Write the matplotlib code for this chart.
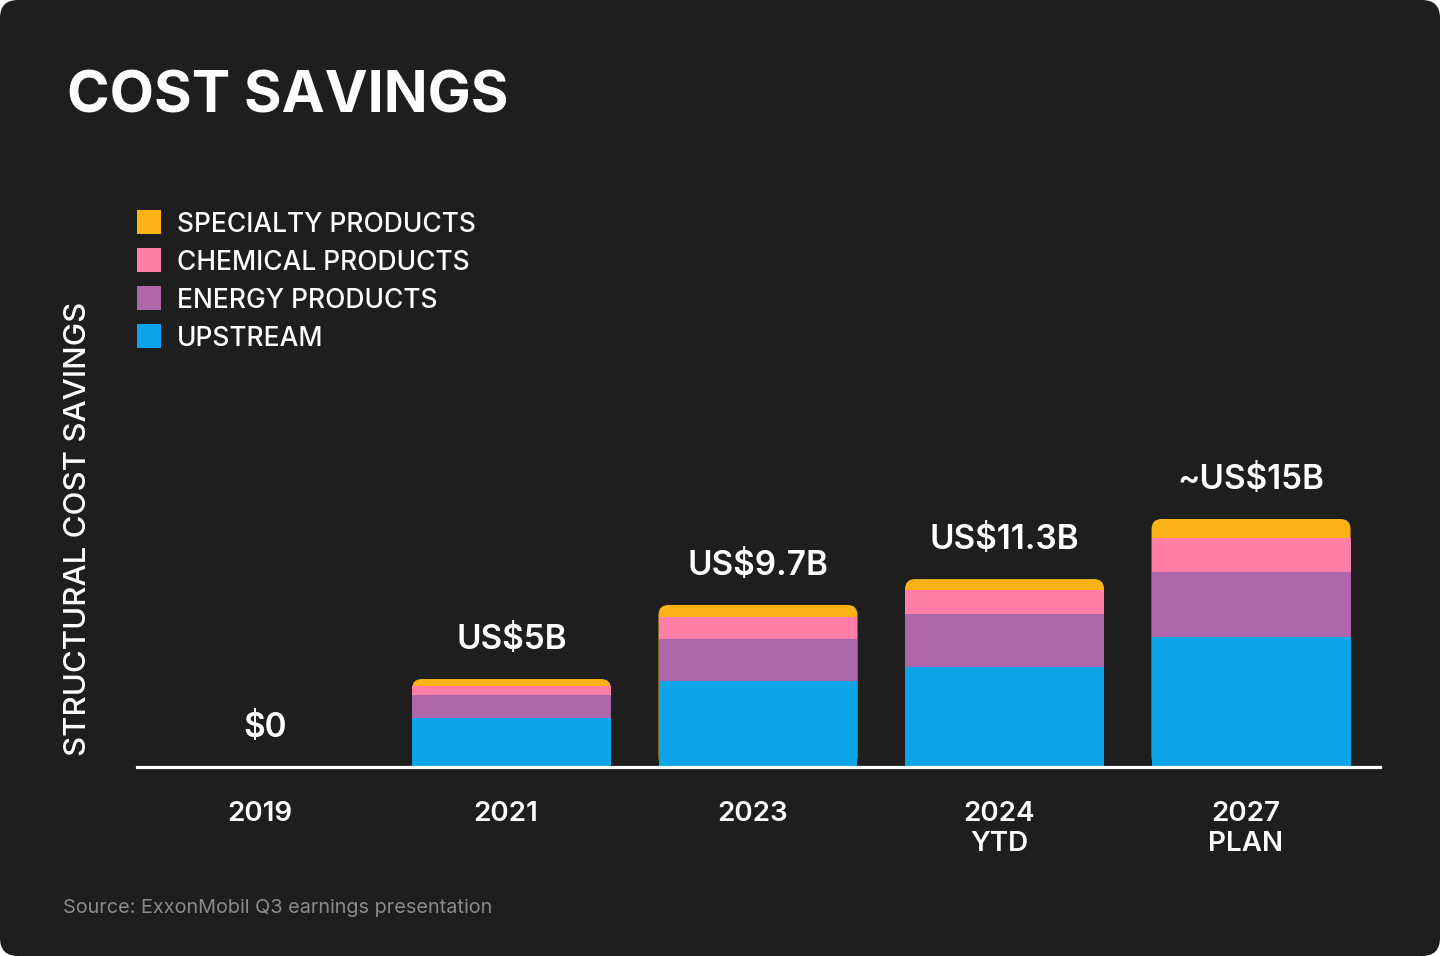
import matplotlib.pyplot as plt
from matplotlib.patches import FancyBboxPatch, Rectangle
import numpy as np

# data (US$ billions)
years = ['2019', '2021', '2023', '2024\nYTD', '2027\nPLAN']
upstream = [0, 2.97, 5.16, 6.02, 7.83]
energy = [0, 1.37, 2.57, 3.19, 3.90]
chemical = [0, 0.56, 1.31, 1.45, 2.08]
specialty = [0, 0.40, 0.72, 0.66, 1.13]
total_labels = ['\\$0', 'US\\$5B', 'US\\$9.7B', 'US\\$11.3B', '~US\\$15B']
legend_labels = ['SPECIALTY PRODUCTS', 'CHEMICAL PRODUCTS', 'ENERGY PRODUCTS', 'UPSTREAM']

BG = '#1e1e1e'
YELLOW = '#fbb217'
PINK = '#ff7fa8'
PURPLE = '#ae66ab'
BLUE = '#0ca6e8'
FONT = 'Inter'

W, H = 1440, 956
fig = plt.figure(figsize=(W / 100, H / 100), dpi=100, facecolor='white')

# background card in pixel coords (origin top-left)
bg = fig.add_axes([0, 0, 1, 1])
bg.set_xlim(0, W)
bg.set_ylim(H, 0)
bg.axis('off')
bg.add_patch(FancyBboxPatch((0, 0), W, H, boxstyle='round,pad=0,rounding_size=18',
                            facecolor=BG, edgecolor='none'))

bg.text(67, 112, 'COST SAVINGS', color='white', fontsize=41.5, fontweight='bold',
        family=FONT, va='baseline', ha='left')

# legend
leg_colors = [YELLOW, PINK, PURPLE, BLUE]
for i, (lab, c) in enumerate(zip(legend_labels, leg_colors)):
    yc = 222 + i * 38
    bg.add_patch(Rectangle((137, yc - 12), 24, 24, facecolor=c, edgecolor='none'))
    bg.text(177, yc + 2.5, lab, color='white', fontsize=19, fontweight='medium',
            family=FONT, va='center', ha='left')

bg.text(78, 529, 'STRUCTURAL COST SAVINGS', color='white', fontsize=22.5,
        fontweight='medium', family=FONT, rotation=90, va='center', ha='center')

bg.text(63, 908, 'Source: ExxonMobil Q3 earnings presentation', color='#8a8a8a',
        fontsize=14.3, family=FONT, va='center', ha='left')

# chart axes
left, right, base, top = 137, 1380, 767, 435
ax = fig.add_axes([left / W, (H - base) / H, (right - left) / W, (base - top) / H])
ax.set_facecolor('none')
x = np.arange(len(years))
ax.set_xlim(-0.519, 4.523)
ax.set_ylim(0, 20)
ax.axis('off')

bw = 0.807
px_x = (right - left) / (4.523 + 0.519)   # pixels per x unit
px_y = (base - top) / 20                    # pixels per y unit
r = 10 / px_x
totals = np.array(upstream) + np.array(energy) + np.array(chemical) + np.array(specialty)

for i in x:
    if totals[i] > 0:
        ax.add_patch(FancyBboxPatch((i - bw / 2, 0), bw, totals[i],
                                    boxstyle=f'round,pad=0,rounding_size={r}',
                                    mutation_aspect=px_x / px_y,
                                    facecolor=YELLOW, edgecolor='none', zorder=2))
b1 = np.array(upstream)
b2 = b1 + np.array(energy)
ax.bar(x, chemical, bw, bottom=b2, color=PINK, zorder=3)
ax.bar(x, energy, bw, bottom=b1, color=PURPLE, zorder=3)
ax.bar(x, upstream, bw, color=BLUE, zorder=3)

ax.axhline(0, color='white', lw=2.3, zorder=4, clip_on=False)

for i in x:
    ax.annotate(total_labels[i], (i, totals[i]), xytext=(0, 28), textcoords='offset points',
                ha='center', va='center', color='white', fontsize=24,
                fontweight='semibold', family=FONT)
    ax.annotate(years[i], (i, 0), xytext=(-4, -24.5), textcoords='offset points',
                ha='center', va='top', color='white', fontsize=20,
                fontweight='semibold', family=FONT, linespacing=1.2)

fig.savefig('out.png', dpi=100, facecolor='white')
